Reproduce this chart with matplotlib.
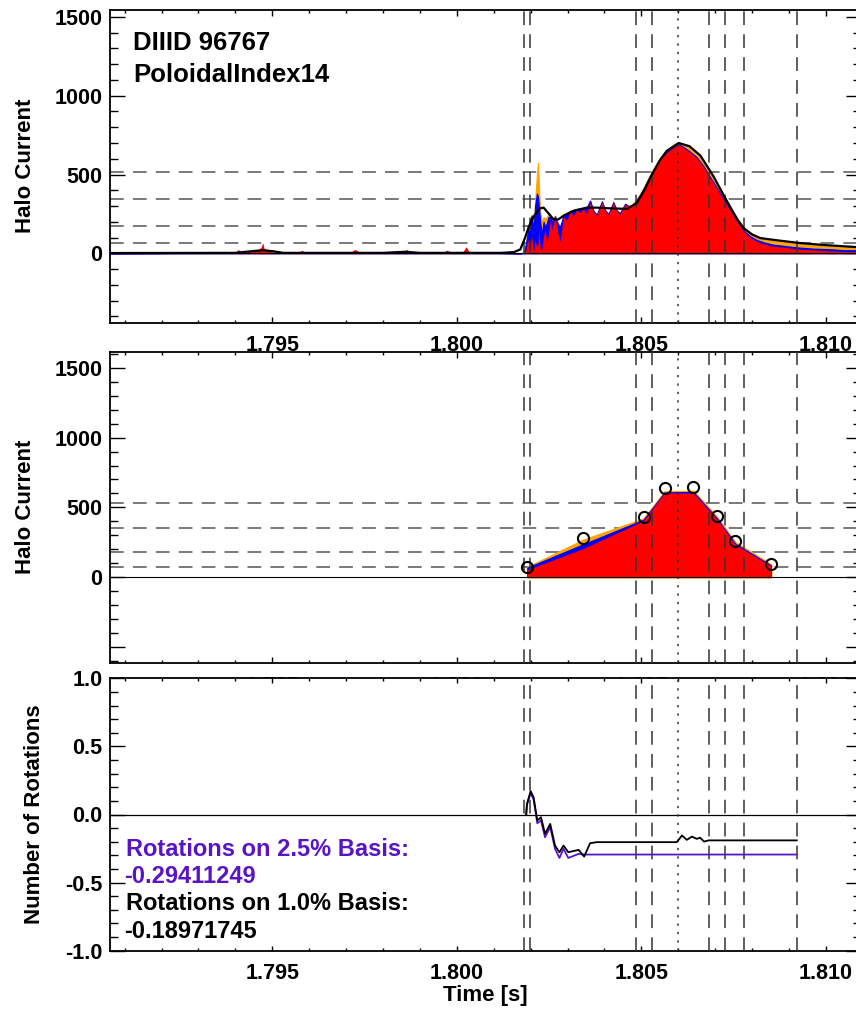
import matplotlib
matplotlib.use("Agg")
import matplotlib.pyplot as plt
from matplotlib.ticker import MultipleLocator, FormatStrFormatter, FuncFormatter
import numpy as np

matplotlib.rcParams.update({
    "font.family": ["Liberation Sans", "DejaVu Sans"],
    "font.weight": "bold",
    "axes.linewidth": 1.3,
})

XLIM = (1.79059, 1.81095)
RED = "#ff0000"
BLUE = "#0000ff"
ORANGE = "#ffa500"
PURPLE = "#5a14c8"

# vertical marker times (dashed) and peak time (dotted)
t_marks = [1.80183, 1.80199, 1.80486, 1.80528, 1.80682, 1.80727, 1.80777, 1.80921]
t_peak = 1.80599
# horizontal threshold levels
levels_top = [517, 346, 172, 66]
levels_mid = [532, 351, 181, 72]

# ---- top panel: raw signal (red), blue and orange traces, smoothed (black)
t_raw = [1.79059, 1.79300, 1.79400, 1.79408, 1.79416, 1.79460, 1.79470, 1.79474,
         1.79478, 1.79500, 1.79570, 1.79580, 1.79590, 1.79710, 1.79724, 1.79740,
         1.79850, 1.79864, 1.79880, 1.79960, 1.79973, 1.79990, 1.80015, 1.80025,
         1.80035, 1.80100, 1.80172, 1.80182, 1.80187, 1.80192, 1.80197, 1.80203,
         1.80208, 1.80212, 1.80217, 1.80220, 1.80223, 1.80226, 1.80230, 1.80235,
         1.80239, 1.80244, 1.80248, 1.80253, 1.80257, 1.80262, 1.80266, 1.80271,
         1.80275, 1.80280, 1.80284, 1.80289, 1.80298, 1.80307, 1.80316, 1.80325,
         1.80334, 1.80343, 1.80352, 1.80361, 1.80370, 1.80379, 1.80393, 1.80402,
         1.80411, 1.80424, 1.80433, 1.80442, 1.80456, 1.80465, 1.80474, 1.80483,
         1.80497, 1.80515, 1.80533, 1.80551, 1.80569, 1.80587, 1.80601, 1.80614,
         1.80632, 1.80650, 1.80668, 1.80686, 1.80705, 1.80723, 1.80741, 1.80759,
         1.80777, 1.80795, 1.80813, 1.80831, 1.80858, 1.80885, 1.80912, 1.80939,
         1.80967, 1.80994, 1.81021, 1.81048, 1.81095]
red_raw = [0, 2, 3, 25, 3, 18, 40, 68, 30, 3, 2, 20, 2, 3, 25, 3,
           2, 25, 3, 2, 20, 2, 4, 42, 3, 2, 0, 0, 20, 90, 30, 110,
           10, 80, 40, 60, 150, 30, 20, 110, 150, 70, 120, 210, 150, 190, 230, 175,
           120, 75, 150, 230, 210, 265, 240, 275, 260, 280, 255, 320, 265, 240, 325, 270,
           245, 320, 270, 250, 310, 300, 300, 320, 370, 445, 525, 595, 640, 670, 690, 670,
           640, 605, 550, 480, 410, 340, 270, 200, 140, 100, 75, 60, 45, 40, 30, 25,
           22, 18, 15, 12, 10]
blue_raw = [0, 3, 4, 15, 4, 10, 20, 30, 15, 4, 3, 10, 3, 4, 12, 4,
            3, 15, 4, 3, 10, 3, 5, 20, 4, 3, 0, 5, 60, 130, 200, 240,
            150, 300, 380, 360, 280, 200, 120, 200, 170, 190, 230, 230, 200, 215, 235, 200,
            180, 170, 200, 240, 250, 270, 265, 280, 285, 282, 290, 335, 270, 245, 330, 272,
            250, 325, 272, 255, 315, 300, 305, 325, 372, 450, 530, 600, 645, 672, 692, 675,
            645, 610, 555, 485, 415, 345, 275, 205, 145, 108, 85, 70, 55, 48, 40, 35,
            30, 28, 25, 20, 20]
orange_raw = [0, 4, 5, 12, 5, 8, 15, 20, 12, 5, 4, 12, 4, 5, 10, 5,
              4, 10, 5, 4, 8, 4, 6, 15, 5, 4, 0, 5, 60, 135, 205, 245,
              160, 330, 500, 575, 400, 260, 200, 230, 220, 230, 250, 245, 230, 225, 240, 210,
              190, 175, 205, 245, 250, 272, 267, 282, 287, 284, 292, 335, 272, 247, 330, 274,
              252, 325, 275, 258, 315, 302, 308, 330, 380, 460, 540, 610, 660, 690, 705, 695,
              670, 635, 590, 520, 440, 370, 295, 225, 165, 125, 105, 92, 82, 75, 70, 65,
              60, 55, 48, 42, 38]

t_smooth = [1.79059, 1.79400, 1.79450, 1.79475, 1.79500, 1.79530, 1.79800, 1.79860,
            1.79900, 1.80120, 1.80155, 1.80172, 1.80185, 1.80195, 1.80210, 1.80225,
            1.80235, 1.80248, 1.80262, 1.80275, 1.80290, 1.80316, 1.80352, 1.80379,
            1.80420, 1.80461, 1.80488, 1.80510, 1.80524, 1.80550, 1.80569, 1.80601,
            1.80630, 1.80660, 1.80695, 1.80732, 1.80760, 1.80777, 1.80800, 1.80822,
            1.80860, 1.80930, 1.81000, 1.81095]
smooth = [2, 3, 15, 20, 14, 3, 3, 10, 3, 3, 8, 25, 100, 170, 240, 285,
          290, 255, 215, 215, 240, 270, 290, 290, 285, 282, 320, 410, 480, 590, 650, 700,
          680, 620, 490, 330, 215, 160, 120, 97, 85, 65, 52, 38]

# ---- middle panel: fitted points
t_pts = [1.80191, 1.80343, 1.80506, 1.80563, 1.80641, 1.80705, 1.80754, 1.80851]
circ_pts = [72, 278, 428, 636, 648, 435, 259, 97]
orange_pts = [70, 266, 418, 612, 616, 428, 248, 90]
blue_pts = [68, 236, 412, 608, 610, 420, 240, 84]
red_pts = [52, 205, 404, 605, 602, 414, 233, 80]

# ---- bottom panel: number of rotations
t_rot = [1.80188, 1.80190, 1.80200, 1.80208, 1.80218, 1.80228, 1.80239, 1.80253,
         1.80266, 1.80278, 1.80289, 1.80302, 1.80330, 1.80345, 1.80361, 1.80379,
         1.80596, 1.80610, 1.80623, 1.80637, 1.80650, 1.80659, 1.80670, 1.80682,
         1.80921]
rot_10 = [0.0, 0.078, 0.172, 0.127, -0.044, -0.020, -0.142, -0.069,
          -0.228, -0.277, -0.228, -0.277, -0.260, -0.309, -0.211, -0.203,
          -0.203, -0.154, -0.186, -0.162, -0.179, -0.170, -0.199, -0.190,
          -0.190]
rot_25 = [0.0, 0.070, 0.157, 0.110, -0.064, -0.044, -0.167, -0.093,
          -0.252, -0.319, -0.252, -0.319, -0.289, -0.294, -0.294, -0.294,
          -0.294, -0.294, -0.294, -0.294, -0.294, -0.294, -0.294, -0.294,
          -0.294]

FIG_W, FIG_H = 856, 1010


def style_axis(ax, ylim, ymaj, ymin, h_px, yfmt):
    ax.set_xlim(XLIM)
    ax.set_ylim(ylim)
    ax.xaxis.set_major_locator(MultipleLocator(0.005))
    ax.xaxis.set_minor_locator(MultipleLocator(0.001))
    ax.xaxis.set_major_formatter(FormatStrFormatter("%.3f"))
    ax.yaxis.set_major_locator(MultipleLocator(ymaj))
    ax.yaxis.set_minor_locator(MultipleLocator(ymin))
    ax.yaxis.set_major_formatter(yfmt)
    ax.tick_params(which="both", direction="in", top=True, right=True,
                   labelsize=15.5, width=1.0, colors="black")
    xl = 0.02 * h_px * 0.72
    yl = 0.02 * 751 * 0.72
    ax.tick_params(axis="x", which="major", length=xl, pad=9)
    ax.tick_params(axis="x", which="minor", length=xl / 2)
    ax.tick_params(axis="y", which="major", length=yl, pad=5)
    ax.tick_params(axis="y", which="minor", length=yl / 2)
    for lab in ax.get_xticklabels() + ax.get_yticklabels():
        lab.set_fontweight("bold")


def draw_marks(ax, levels):
    for lv in levels:
        ax.axhline(lv, color="#555555", lw=1.1, ls=(0, (9, 6)), zorder=1)
    for tm in t_marks:
        ax.axvline(tm, color="#333333", lw=1.1, ls=(0, (9, 6)), zorder=5)
    ax.axvline(t_peak, color="#333333", lw=1.1, ls=(0, (1.5, 4)), zorder=5)


def axes_rect(top_px, bot_px):
    left, right = 109.5, 861.0
    return [left / FIG_W, 1 - bot_px / FIG_H, (right - left) / FIG_W,
            (bot_px - top_px) / FIG_H]


int_fmt = FormatStrFormatter("%d")
pos_fmt = FuncFormatter(lambda v, p: f"{v:.0f}" if v >= 0 else "")

fig = plt.figure(figsize=(FIG_W / 100, FIG_H / 100), dpi=100)

# top panel
ax1 = fig.add_axes(axes_rect(9.5, 322.7))
ax1.fill_between(t_raw, 0, orange_raw, color=ORANGE, lw=0.8, zorder=2)
ax1.fill_between(t_raw, 0, blue_raw, color=BLUE, lw=0.8, zorder=3)
ax1.fill_between(t_raw, 0, red_raw, color=RED, lw=0, zorder=4)
ax1.axhline(0, color="black", lw=0.8, zorder=4)
ax1.plot(t_smooth, smooth, color="black", lw=1.6, zorder=6)
draw_marks(ax1, levels_top)
style_axis(ax1, (-440, 1547), 500, 100, 313, int_fmt)
ax1.text(0.031, 0.871, "DIIID 96767", transform=ax1.transAxes, fontsize=18.5,
         fontweight="bold", va="baseline")
ax1.text(0.031, 0.770, "PoloidalIndex14", transform=ax1.transAxes, fontsize=18.5,
         fontweight="bold", va="baseline")

# middle panel
ax2 = fig.add_axes(axes_rect(352, 663))
ax2.fill_between(t_pts, 0, orange_pts, color=ORANGE, lw=1.5, edgecolor=ORANGE, zorder=2)
ax2.fill_between(t_pts, 0, blue_pts, color=BLUE, lw=0.8, zorder=3)
ax2.fill_between(t_pts, 0, red_pts, color=RED, lw=0, zorder=4)
ax2.axhline(0, color="black", lw=0.8, zorder=4)
draw_marks(ax2, levels_mid)
ax2.plot(t_pts, circ_pts, ls="none", marker="o", ms=8, mfc="none", mec="black",
         mew=1.5, zorder=7)
style_axis(ax2, (-617, 1615), 500, 100, 311, pos_fmt)

# bottom panel
ax3 = fig.add_axes(axes_rect(678.3, 950.7))
ax3.axhline(0, color="black", lw=0.9, zorder=2)
draw_marks(ax3, [])
ax3.plot(t_rot, rot_25, color=PURPLE, lw=1.3, zorder=6)
ax3.plot(t_rot, rot_10, color="black", lw=1.3, zorder=6)
style_axis(ax3, (-1.0, 1.0), 0.5, 0.1, 272, FormatStrFormatter("%.1f"))
ax3.text(0.022, 0.3476, "Rotations on 2.5% Basis:", transform=ax3.transAxes,
         fontsize=17, fontweight="bold", color=PURPLE, va="baseline")
ax3.text(0.020, 0.2496, "-0.29411249", transform=ax3.transAxes,
         fontsize=17, fontweight="bold", color=PURPLE, va="baseline")
ax3.text(0.022, 0.1494, "Rotations on 1.0% Basis:", transform=ax3.transAxes,
         fontsize=17, fontweight="bold", color="black", va="baseline")
ax3.text(0.020, 0.0477, "-0.18971745", transform=ax3.transAxes,
         fontsize=17, fontweight="bold", color="black", va="baseline")

# axis titles
fig.text(25.7 / FIG_W, 1 - 166 / FIG_H, "Halo Current", rotation=90, ha="center",
         va="center", fontsize=16, fontweight="bold")
fig.text(25.7 / FIG_W, 1 - 507 / FIG_H, "Halo Current", rotation=90, ha="center",
         va="center", fontsize=16, fontweight="bold")
fig.text(35 / FIG_W, 1 - 814 / FIG_H, "Number of Rotations", rotation=90, ha="center",
         va="center", fontsize=16, fontweight="bold")
fig.text(485.5 / FIG_W, 1 - 996 / FIG_H, "Time [s]", ha="center", va="center",
         fontsize=16, fontweight="bold")

fig.savefig("out.png", dpi=100)
